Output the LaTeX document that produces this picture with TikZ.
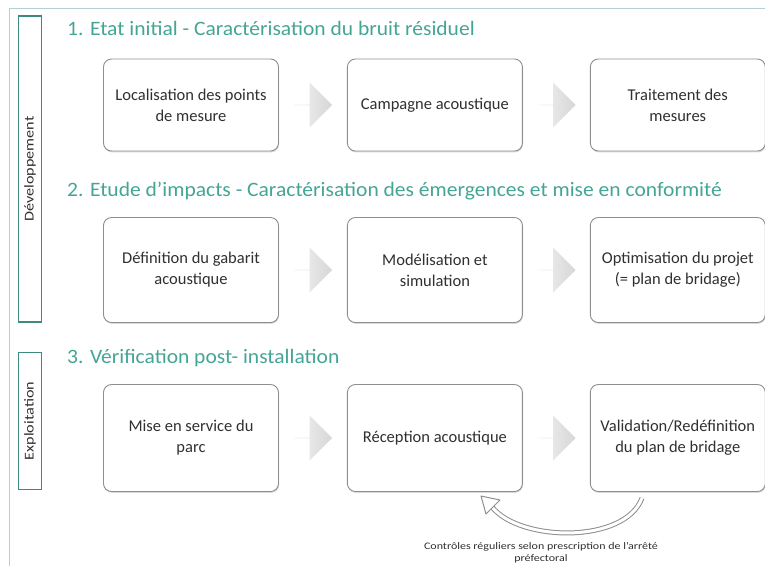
\documentclass[tikz,border=0pt]{standalone}
\usepackage{fontspec}
\setmainfont{Carlito}
\newfontfamily\titrefont{Carlito}[FakeStretch=1.05]
\newfontfamily\largefont{Carlito}[FakeStretch=1.2]
\usetikzlibrary{positioning}
\usetikzlibrary{shapes.arrows}
\usetikzlibrary{shadows}
\usetikzlibrary{calc}

\definecolor{vert}{HTML}{45A595}
\definecolor{cadre}{HTML}{3D8A7E}
\definecolor{bord}{HTML}{8E8E8E}
\definecolor{texte}{HTML}{303030}
\definecolor{ligne}{HTML}{B5CFD8}

\tikzset{
  etape/.style={draw=bord, line width=0.9pt, rounded corners=8pt, fill=white,
    minimum width=175pt, align=center, text=texte,
    font=\fontsize{16.5}{21}\selectfont,
    drop shadow={shadow xshift=0.6pt, shadow yshift=-1.4pt, opacity=0.3, fill=gray}},
  fleche/.style={single arrow, draw=none, left color=gray!10, right color=gray!32,
    minimum height=38pt, minimum width=45pt, single arrow head extend=10pt, inner sep=0pt},
  titre/.style={anchor=west, text=vert, font=\titrefont\fontsize{20.5}{24}\selectfont, inner sep=0pt},
  phase/.style={draw=cadre, line width=1.5pt, rotate=90, minimum height=23pt,
    text=texte, font=\largefont\fontsize{13.5}{16}\selectfont, inner sep=0pt},
  note/.style={align=center, text=texte, font=\largefont\fontsize{10}{12}\selectfont}
}

\begin{document}
\begin{tikzpicture}[x=1pt, y=-1pt]
                \useasboundingbox (0,0) rectangle (765,566);
                % Frame
                \draw[ligne, line width=1pt] (765,8) -- (9,8) -- (9,566);

                % Phases
                \node[phase, minimum width=306pt] (dev) at (30,169) {Développement};
                \node[phase, minimum width=137pt] (expl) at (30,421) {Exploitation};

                % Titles
                \node[titre] (t1) at (67,28) {1. Etat initial - Caractérisation du bruit résiduel};
                \node[titre] (t2) at (67,191) {2. Etude d’impacts - Caractérisation des émergences et mise en conformité};
                \node[titre] (t3) at (67,358) {3. Vérification post- installation};

                % Row 1
                \node[etape, minimum height=92pt] (loc) at (191,105) {Localisation des points\\de mesure};
                \node[etape, minimum height=92pt, right=68pt of loc] (camp) {Campagne acoustique};
                \node[etape, minimum height=92pt, right=67pt of camp] (trait) {Traitement des\\mesures};

                % Row 2
                \node[etape, minimum height=105pt] (gab) at (191,270) {Définition du gabarit\\acoustique};
                \node[etape, minimum height=105pt, right=68pt of gab] (modl) {Modélisation et\\simulation};
                \node[etape, minimum height=105pt, right=67pt of modl] (optim) {Optimisation du projet\\(= plan de bridage)};

                % Row 3
                \node[etape, minimum height=107pt] (mes) at (191,438) {Mise en service du\\parc};
                \node[etape, minimum height=107pt, right=68pt of mes] (recep) {Réception acoustique};
                \node[etape, minimum height=107pt, right=67pt of recep] (valid) {Validation/Redéfinition\\du plan de bridage};

                % Block arrows
                \foreach \a/\b in {loc/camp, camp/trait, gab/modl, modl/optim, mes/recep, recep/valid}
                    \node[fleche] at ($(\a.east)!0.5!(\b.west)$) {};

                % Loop
                \coordinate (depart) at (642,498);
                \coordinate (arrivee) at (492,507);
                \draw[bord, line width=5pt] (depart) .. controls (625,544) and (520,542) .. (arrivee);
                \draw[white, line width=3pt] (depart) .. controls (625,544) and (520,542) .. (arrivee);
                \draw[bord, line width=1pt, fill=white, line join=round] (481,496) -- (500,500) -- (486,514) -- cycle;

                \node[note] (ctrl) at (541,553) {Contrôles réguliers selon prescription de l’arrêté\\préfectoral};
            \end{tikzpicture}
\end{document}
